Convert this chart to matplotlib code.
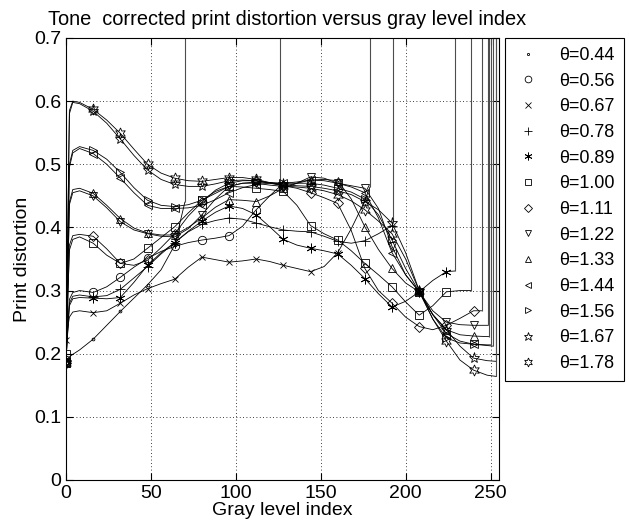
import numpy as np
import matplotlib.pyplot as plt
from matplotlib.lines import Line2D

plt.rcParams['font.family'] = ['Liberation Sans', 'DejaVu Sans']

# gray levels where the curves were read (markers sit on multiples of 16)
gray_x = [0, 2, 4, 8, 16, 24, 32, 40, 48, 56, 64, 72, 80, 88, 96, 104, 112, 120,
          128, 136, 144, 152, 160, 168, 176, 184, 192, 200, 208, 216, 224, 232, 240, 248]

thetas = ['0.44', '0.56', '0.67', '0.78', '0.89', '1.00', '1.11',
          '1.22', '1.33', '1.44', '1.56', '1.67', '1.78']

dist_044 = [0.190, 0.195, 0.199, 0.206, 0.223, 0.245, 0.267, 0.288, 0.309, 0.333, 0.372]
dist_056 = [0.190, 0.286, 0.297, 0.300, 0.297, 0.306, 0.321, 0.337, 0.351, 0.362, 0.370,
            0.376, 0.380, 0.383, 0.387, 0.402, 0.428, 0.450]
dist_067 = [0.222, 0.258, 0.266, 0.268, 0.265, 0.268, 0.280, 0.293, 0.303, 0.311, 0.318,
            0.337, 0.353, 0.349, 0.345, 0.347, 0.350, 0.346, 0.340, 0.335, 0.330, 0.338,
            0.360, 0.398, 0.442]
dist_078 = [0.190, 0.280, 0.291, 0.293, 0.290, 0.292, 0.302, 0.320, 0.338, 0.358, 0.376,
            0.393, 0.405, 0.411, 0.415, 0.413, 0.407, 0.401, 0.396, 0.394, 0.393, 0.386,
            0.378, 0.375, 0.379, 0.390, 0.403]
dist_089 = [0.190, 0.276, 0.287, 0.289, 0.288, 0.287, 0.289, 0.313, 0.340, 0.360, 0.376,
            0.394, 0.410, 0.424, 0.434, 0.430, 0.420, 0.401, 0.381, 0.372, 0.367, 0.363,
            0.358, 0.340, 0.319, 0.295, 0.274, 0.283, 0.298, 0.316, 0.330]
dist_100 = [0.200, 0.364, 0.381, 0.385, 0.375, 0.356, 0.343, 0.350, 0.367, 0.384, 0.401,
            0.423, 0.443, 0.457, 0.465, 0.464, 0.462, 0.460, 0.457, 0.435, 0.403, 0.390,
            0.380, 0.363, 0.343, 0.325, 0.306, 0.282, 0.261, 0.276, 0.298, 0.300]
dist_111 = [0.185, 0.372, 0.387, 0.389, 0.386, 0.366, 0.343, 0.340, 0.348, 0.368, 0.390,
            0.418, 0.440, 0.459, 0.470, 0.474, 0.474, 0.470, 0.466, 0.462, 0.455, 0.447,
            0.438, 0.395, 0.335, 0.300, 0.280, 0.258, 0.243, 0.238, 0.245, 0.256, 0.268]
dist_122 = [0.185, 0.436, 0.455, 0.458, 0.450, 0.431, 0.409, 0.396, 0.390, 0.386, 0.385,
            0.398, 0.420, 0.445, 0.465, 0.470, 0.470, 0.467, 0.465, 0.470, 0.480, 0.478,
            0.470, 0.466, 0.462, 0.430, 0.370, 0.325, 0.298, 0.268, 0.250, 0.246, 0.245]
dist_133 = [0.185, 0.440, 0.460, 0.462, 0.454, 0.435, 0.414, 0.399, 0.391, 0.388, 0.388,
            0.400, 0.415, 0.432, 0.444, 0.443, 0.441, 0.450, 0.462, 0.470, 0.475, 0.476,
            0.474, 0.445, 0.401, 0.365, 0.335, 0.312, 0.298, 0.262, 0.238, 0.230, 0.228]
dist_144 = [0.185, 0.495, 0.518, 0.525, 0.517, 0.500, 0.478, 0.455, 0.435, 0.430, 0.430,
            0.431, 0.435, 0.444, 0.455, 0.463, 0.468, 0.470, 0.470, 0.472, 0.475, 0.474,
            0.470, 0.464, 0.455, 0.415, 0.360, 0.325, 0.298, 0.262, 0.232, 0.220, 0.215, 0.214]
dist_156 = [0.185, 0.500, 0.522, 0.528, 0.522, 0.508, 0.487, 0.463, 0.443, 0.435, 0.433,
            0.436, 0.443, 0.454, 0.465, 0.470, 0.472, 0.471, 0.470, 0.470, 0.470, 0.467,
            0.462, 0.456, 0.445, 0.420, 0.380, 0.335, 0.298, 0.255, 0.225, 0.217, 0.215, 0.213]
dist_167 = [0.185, 0.580, 0.598, 0.596, 0.584, 0.565, 0.540, 0.514, 0.491, 0.476, 0.468,
            0.465, 0.465, 0.469, 0.474, 0.475, 0.474, 0.471, 0.468, 0.466, 0.465, 0.462,
            0.458, 0.452, 0.441, 0.428, 0.407, 0.360, 0.300, 0.262, 0.238, 0.212, 0.193, 0.189]
dist_178 = [0.185, 0.585, 0.600, 0.598, 0.587, 0.570, 0.549, 0.524, 0.500, 0.486, 0.478,
            0.474, 0.473, 0.476, 0.479, 0.479, 0.476, 0.471, 0.466, 0.464, 0.462, 0.458,
            0.452, 0.442, 0.428, 0.410, 0.390, 0.350, 0.300, 0.255, 0.220, 0.190, 0.174, 0.166]

# where each curve blows up (vertical line to the top of the plot)
end_x = [70, 126, 179, 192.6, 229, 238.8, 244.7, 248.6, 249.3, 250, 251.5, 253, 253.5]
end_y = [0.440, 0.465, 0.464, 0.407, 0.331, 0.300, 0.268, 0.245, 0.227, 0.214, 0.212, 0.188, 0.164]

all_dist = [dist_044, dist_056, dist_067, dist_078, dist_089, dist_100, dist_111,
            dist_122, dist_133, dist_144, dist_156, dist_167, dist_178]
markers = ['.', 'o', 'x', '+', (6, 2, 0), 's', 'D', 'v', '^', '<', '>', '*', (6, 1, 0)]
msizes = [4, 6, 5, 7, 7, 5.5, 5, 6, 6, 6, 6, 8, 8]


def main():
    fig = plt.figure(figsize=(6.29, 5.27), dpi=100)
    ax = fig.add_axes([66 / 629, 1 - 480 / 527, 433 / 629, 442 / 527])
    ymax = 0.7

    for i, d in enumerate(all_dist):
        xs = gray_x[:len(d)] + [end_x[i]]
        ys = d + [end_y[i]]
        mk = [j for j, g in enumerate(xs[:-1]) if g % 16 == 0]
        ax.plot(xs, ys, color='k', lw=0.6, marker=markers[i], ms=msizes[i],
                mfc='none', mec='k', mew=0.6, markevery=mk)
        ax.vlines(end_x[i], end_y[i], ymax, color='0.3', lw=0.8)

    ax.set_xlim(0, 255)
    ax.set_ylim(0, ymax)
    ax.set_xticks([0, 50, 100, 150, 200, 250])
    ax.set_yticks(np.arange(0, 0.71, 0.1))
    ax.set_yticklabels(['0', '0.1', '0.2', '0.3', '0.4', '0.5', '0.6', '0.7'])
    ax.grid(True, ls=(0, (1, 3)), color='k', lw=0.6)
    ax.tick_params(direction='in', top=True, right=True, labelsize=14, length=5)
    ax.set_xlabel('Gray level index', fontsize=14, labelpad=0)
    ax.set_ylabel('Print distortion', fontsize=14, labelpad=2)
    ax.set_title('Tone  corrected print distortion versus gray level index',
                 fontsize=14.4, pad=9, x=0.51)

    handles = [Line2D([], [], ls='none', marker=markers[i], ms=msizes[i] * 0.8,
                      mfc='none', mec='k', mew=0.6) for i in range(len(thetas))]
    labels = ['\u03b8=' + t for t in thetas]
    leg = fig.legend(handles, labels, loc='upper left',
                     bbox_to_anchor=(505 / 629, 1 - 38 / 527), fontsize=13,
                     fancybox=False, edgecolor='k', framealpha=1,
                     labelspacing=0.48, handletextpad=0.9, borderpad=0.5,
                     handlelength=1.6, borderaxespad=0)
    leg.get_frame().set_linewidth(0.8)

    fig.savefig('out.png', dpi=100)


if __name__ == '__main__':
    main()
